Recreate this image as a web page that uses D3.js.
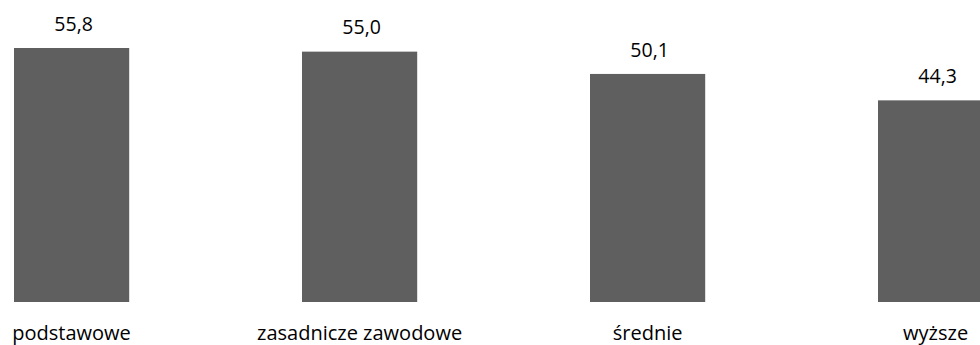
<!DOCTYPE html>
<html><head><meta charset="utf-8">
<script src="https://cdn.jsdelivr.net/npm/d3@7"></script>
<style>html,body{margin:0;padding:0;background:#fff;overflow:hidden}</style>
</head><body>
<svg id="c" width="980" height="345"></svg>
<script>
const categories = ["podstawowe", "zasadnicze zawodowe", "średnie", "wyższe"];
const values = [55.8, 55.0, 50.1, 44.3];
const valueLabels = ["55,8", "55,0", "50,1", "44,3"];

const svg = d3.select("#c");
const font = "'Open Sans', sans-serif";
const x = d3.scaleBand().domain(categories).range([-72.4, 1079.6]).paddingInner(0.6).paddingOuter(0.3);
const y = d3.scaleLinear().domain([0, 55.8]).range([302, 48]);

svg.selectAll("rect.bar").data(categories).join("rect")
  .attr("class", "bar")
  .attr("x", d => x(d)).attr("width", x.bandwidth())
  .attr("y", (d, i) => y(values[i])).attr("height", (d, i) => y(0) - y(values[i]))
  .attr("fill", "#5f5f5f");

svg.selectAll("text.val").data(categories).join("text")
  .attr("class", "val")
  .attr("x", d => x(d) + x.bandwidth() / 2 + 2)
  .attr("y", (d, i) => y(values[i]) - 17.3)
  .attr("text-anchor", "middle")
  .attr("font-family", font).attr("font-size", 19.5).attr("fill", "#000")
  .text((d, i) => valueLabels[i]);

svg.selectAll("text.cat").data(categories).join("text")
  .attr("class", "cat")
  .attr("x", d => x(d) + x.bandwidth() / 2)
  .attr("y", 339.5)
  .attr("text-anchor", "middle")
  .attr("font-family", font).attr("font-size", 20).attr("fill", "#000")
  .text(d => d);
</script>
</body></html>
